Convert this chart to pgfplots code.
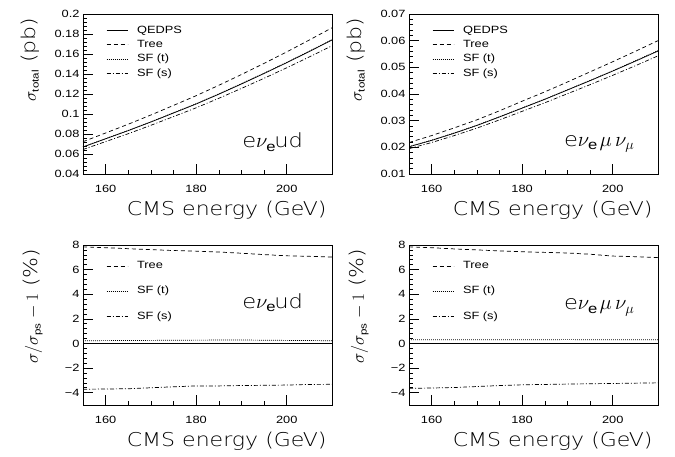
\documentclass[border=0pt]{standalone}
\usepackage{pgfplots}
\pgfplotsset{compat=1.18}
\usepackage{fontspec}
\setmainfont[FakeStretch=1.22]{Liberation Sans}
\newfontfamily\thinfont[FakeStretch=1.16]{DejaVu Sans ExtraLight}
\newfontfamily\subfont[FakeStretch=1.22]{Liberation Sans}
\newcommand{\sub}[1]{\hbox{\subfont\fontsize{9.5}{11}\selectfont #1}}
\tikzset{ann/.style={anchor=base west, font=\thinfont\fontsize{19.5}{22}\selectfont, inner sep=0pt}}
\begin{document}
\begin{tikzpicture}
\useasboundingbox (0pt,0pt) rectangle (675pt,457pt);
\pgfplotsset{
  paw/.style={
    scale only axis, width=249pt, height=160pt,
    xmin=155, xmax=210,
    xtick={160,180,200}, minor x tick num=3,
    minor y tick num=4,
    tick pos=left, tick align=inside,
    major tick length=10pt, minor tick length=4pt,
    every tick/.style={black, line width=0.6pt},
    axis line style={line width=0.9pt},
    /pgf/number format/assume math mode=true,
    tick label style={font=\fontsize{10.5}{12}\selectfont},
    xticklabel style={yshift=-8pt},
    xlabel={CMS energy (GeV)},
    xlabel style={at={(axis description cs:1,0)}, anchor=base east, yshift=-42pt, xshift=-2pt, font=\thinfont\fontsize{19}{22}\selectfont},
    legend cell align=left,
    legend image code/.code={\draw[#1] (0pt,0pt) -- (21pt,0pt); \path (28pt,0pt);},
    every axis plot/.append style={line width=0.7pt, black, no marks},
  },
  qed/.style={solid},
  tree/.style={dash pattern=on 4pt off 3pt},
  sft/.style={dash pattern=on 0.8pt off 1.2pt},
  sfs/.style={dash pattern=on 4pt off 2pt on 1pt off 2pt},
  top/.style={
    ymin=0.04, ymax=0.2,
    ytick={0.04,0.06,0.08,0.1,0.12,0.14,0.16,0.18,0.2},
    scaled y ticks=false,
    yticklabel style={/pgf/number format/fixed, /pgf/number format/precision=2},
    ylabel={$\sigma_{\sub{total}}$ (pb)},
    ylabel style={at={(axis description cs:-0.185,1)}, anchor=base east, yshift=1pt, font=\thinfont\fontsize{19}{22}\selectfont},
    legend style={draw=none, fill=none, at={(axis description cs:0.093,0.94)}, anchor=north west, font=\fontsize{10.5}{13}\selectfont, row sep=1.5pt, inner sep=0pt},
  },
  bot/.style={
    ymin=-5, ymax=8,
    ytick={-4,-2,0,2,4,6,8},
    yticklabels={−4,−2,0,2,4,6,8},
    ylabel={$\sigma/\sigma_{\sub{ps}}-1$ (\%)},
    ylabel style={at={(axis description cs:-0.193,1)}, anchor=base east, yshift=-3pt, font=\thinfont\fontsize{19}{22}\selectfont},
    legend style={draw=none, fill=none, at={(axis description cs:0.093,0.91)}, anchor=north west, font=\fontsize{10.5}{13}\selectfont, row sep=12pt, inner sep=0pt},
  },
}
% ---------- top left ----------
\begin{axis}[paw, top, at={(83pt,283pt)}, anchor=south west]
\addplot[qed] coordinates {(155,0.0670)(160,0.0752)(165,0.0834)(170,0.0920)(175,0.1010)(180,0.1100)(185,0.1198)(190,0.1300)(195,0.1405)(200,0.1513)(205,0.1625)(210,0.1740)};
\addlegendentry{QEDPS}
\addplot[tree] coordinates {(155,0.0723)(160,0.0810)(165,0.0898)(170,0.0990)(175,0.1086)(180,0.1183)(185,0.1287)(190,0.1395)(195,0.1506)(200,0.1621)(205,0.1740)(210,0.1862)};
\addlegendentry{Tree}
\addplot[sft] coordinates {(155,0.0672)(160,0.0754)(165,0.0836)(170,0.0922)(175,0.1013)(180,0.1103)(185,0.1201)(190,0.1304)(195,0.1409)(200,0.1517)(205,0.1629)(210,0.1744)};
\addlegendentry{SF (t)}
\addplot[sfs] coordinates {(155,0.0645)(160,0.0724)(165,0.0803)(170,0.0887)(175,0.0974)(180,0.1062)(185,0.1157)(190,0.1256)(195,0.1357)(200,0.1462)(205,0.1571)(210,0.1682)};
\addlegendentry{SF (s)}
\node[ann] at (axis description cs:0.639,0.1625) {e$\nu_{\mathrm{e}}$ud};
\end{axis}
% ---------- top right ----------
\begin{axis}[paw, top, ymin=0.01, ymax=0.07, ytick={0.01,0.02,0.03,0.04,0.05,0.06,0.07}, at={(409pt,283pt)}, anchor=south west]
\addplot[qed] coordinates {(155,0.0202)(160,0.0226)(165,0.0253)(170,0.0282)(175,0.0314)(180,0.0347)(185,0.0380)(190,0.0415)(195,0.0450)(200,0.0486)(205,0.0523)(210,0.0561)};
\addlegendentry{QEDPS}
\addplot[tree] coordinates {(155,0.0218)(160,0.0244)(165,0.0273)(170,0.0303)(175,0.0337)(180,0.0373)(185,0.0408)(190,0.0445)(195,0.0483)(200,0.0521)(205,0.0560)(210,0.0600)};
\addlegendentry{Tree}
\addplot[sft] coordinates {(155,0.0203)(160,0.0227)(165,0.0254)(170,0.0283)(175,0.0315)(180,0.0348)(185,0.0381)(190,0.0416)(195,0.0451)(200,0.0487)(205,0.0525)(210,0.0563)};
\addlegendentry{SF (t)}
\addplot[sfs] coordinates {(155,0.0195)(160,0.0218)(165,0.0244)(170,0.0272)(175,0.0303)(180,0.0335)(185,0.0367)(190,0.0401)(195,0.0435)(200,0.0470)(205,0.0506)(210,0.0543)};
\addlegendentry{SF (s)}
\node[ann] at (axis description cs:0.622,0.17) {e$\nu_{\mathrm{e}}\,\mu\,\nu_{\mu}$};
\end{axis}
% ---------- bottom left ----------
\begin{axis}[paw, bot, at={(83pt,52pt)}, anchor=south west]
\addplot[qed, forget plot] coordinates {(155,0)(210,0)};
\addplot[tree] coordinates {(155,7.85)(160,7.78)(165,7.70)(170,7.62)(175,7.55)(180,7.50)(185,7.43)(190,7.33)(195,7.22)(200,7.12)(205,7.08)(210,7.02)};
\addlegendentry{Tree}
\addplot[sft] coordinates {(155,0.22)(160,0.23)(170,0.25)(180,0.27)(190,0.28)(200,0.25)(210,0.22)};
\addlegendentry{SF (t)}
\addplot[sfs] coordinates {(155,-3.72)(160,-3.70)(165,-3.68)(170,-3.60)(175,-3.52)(180,-3.45)(185,-3.45)(190,-3.42)(195,-3.40)(200,-3.38)(205,-3.33)(210,-3.32)};
\addlegendentry{SF (s)}
\node[ann] at (axis description cs:0.639,0.606) {e$\nu_{\mathrm{e}}$ud};
\end{axis}
% ---------- bottom right ----------
\begin{axis}[paw, bot, at={(409pt,52pt)}, anchor=south west]
\addplot[qed, forget plot] coordinates {(155,0)(210,0)};
\addplot[tree] coordinates {(155,7.85)(160,7.78)(165,7.68)(170,7.60)(175,7.52)(180,7.45)(185,7.40)(190,7.35)(195,7.25)(200,7.10)(205,7.05)(210,6.98)};
\addlegendentry{Tree}
\addplot[sft] coordinates {(155,0.30)(170,0.30)(190,0.31)(210,0.30)};
\addlegendentry{SF (t)}
\addplot[sfs] coordinates {(155,-3.65)(160,-3.62)(165,-3.58)(170,-3.50)(175,-3.42)(180,-3.36)(190,-3.30)(200,-3.25)(210,-3.20)};
\addlegendentry{SF (s)}
\node[ann] at (axis description cs:0.622,0.594) {e$\nu_{\mathrm{e}}\,\mu\,\nu_{\mu}$};
\end{axis}
\end{tikzpicture}
\end{document}
